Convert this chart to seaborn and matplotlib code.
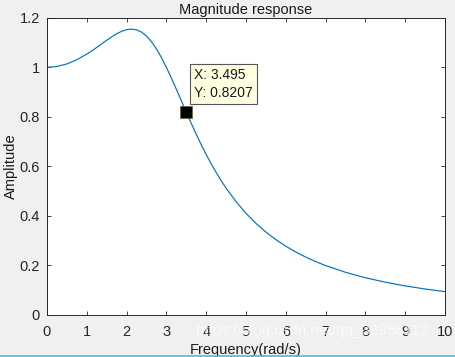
import numpy as np
import pandas as pd
import matplotlib.pyplot as plt
from matplotlib.lines import Line2D
import seaborn as sns

# values
freq = [0, 0.25, 0.5, 0.75, 1.0, 1.125, 1.25, 1.375, 1.5, 1.625, 1.75, 1.875,
        2.0, 2.125, 2.25, 2.375, 2.5, 2.625, 2.75, 2.875, 3.0, 3.125, 3.25,
        3.375, 3.5, 3.625, 3.75, 3.875, 4.0, 4.125, 4.25, 4.375, 4.5, 4.75,
        5.0, 5.25, 5.5, 5.75, 6.0, 6.25, 6.5, 6.75, 7.0, 7.5, 8.0, 8.5, 9.0,
        9.5, 10.0]
amp = [1.0, 1.0035, 1.0138, 1.0307, 1.0534, 1.0665, 1.0805, 1.0950, 1.1094,
       1.1232, 1.1356, 1.1456, 1.1523, 1.1547, 1.1517, 1.1425, 1.1266, 1.1039,
       1.0747, 1.0397, 1.0, 0.9568, 0.9115, 0.8651, 0.8188, 0.7734, 0.7295,
       0.6876, 0.6478, 0.6104, 0.5753, 0.5426, 0.5121, 0.4575, 0.4104, 0.3697,
       0.3345, 0.3040, 0.2774, 0.2540, 0.2335, 0.2153, 0.1992, 0.1720, 0.1500,
       0.1320, 0.1170, 0.1045, 0.0939]
tip_x = 3.495
tip_y = 0.8207
xticks = list(range(0, 11))
yticks = [0, 0.2, 0.4, 0.6, 0.8, 1.0, 1.2]
ytick_labels = ['0', '0.2', '0.4', '0.6', '0.8', '1', '1.2']

df = pd.DataFrame({'Frequency': freq, 'Amplitude': amp})

sns.set_style('ticks')
plt.rcParams['font.family'] = ['Liberation Sans', 'DejaVu Sans']

fig = plt.figure(figsize=(4.56, 3.57), dpi=100, facecolor='#f0f0f0')
ax = fig.add_axes([0.103, 0.118, 0.873, 0.832])
ax.set_facecolor('white')

sns.lineplot(data=df, x='Frequency', y='Amplitude', ax=ax, color='#0072BD', linewidth=0.85)

ax.plot([tip_x], [tip_y], marker='s', markersize=8, color='black',
        markeredgecolor='#6b6b40', markeredgewidth=0.6)
ax.text(3.7, 0.868, 'X: %.3f\nY: %.4f' % (tip_x, tip_y), fontsize=10,
        ha='left', va='bottom', linespacing=1.4, color='#1a1a1a',
        bbox=dict(boxstyle='square,pad=0.28', facecolor='#ffffe1', edgecolor='#555555', linewidth=0.8))

ax.set_xlim(0, 10)
ax.set_ylim(0, 1.2)
ax.set_xticks(xticks)
ax.set_yticks(yticks)
ax.set_yticklabels(ytick_labels)
ax.tick_params(direction='in', top=True, right=True, length=3, width=0.6,
               colors='#262626', labelsize=10.5)
ax.tick_params(axis='x', pad=7)
ax.tick_params(axis='y', pad=5)
for sp in ax.spines.values():
    sp.set_visible(True)
    sp.set_color('#262626')
    sp.set_linewidth(0.7)

ax.set_title('Magnitude response', fontsize=10.5, pad=3, color='#1a1a1a')
ax.set_xlabel('Frequency(rad/s)', fontsize=10.5, labelpad=3, color='#1a1a1a')
ax.set_ylabel('Amplitude', fontsize=10.5, labelpad=1, color='#1a1a1a')

fig.text(0.43, 0.072, 'https://blog.csdn.net/qq_33956112', fontsize=11,
         color='white', alpha=0.7, ha='left', va='center')
fig.add_artist(Line2D([0, 1], [0.004, 0.004], color='#3fc7d6', linewidth=1.2,
                      transform=fig.transFigure))

fig.savefig('out.png', dpi=100, facecolor=fig.get_facecolor())
